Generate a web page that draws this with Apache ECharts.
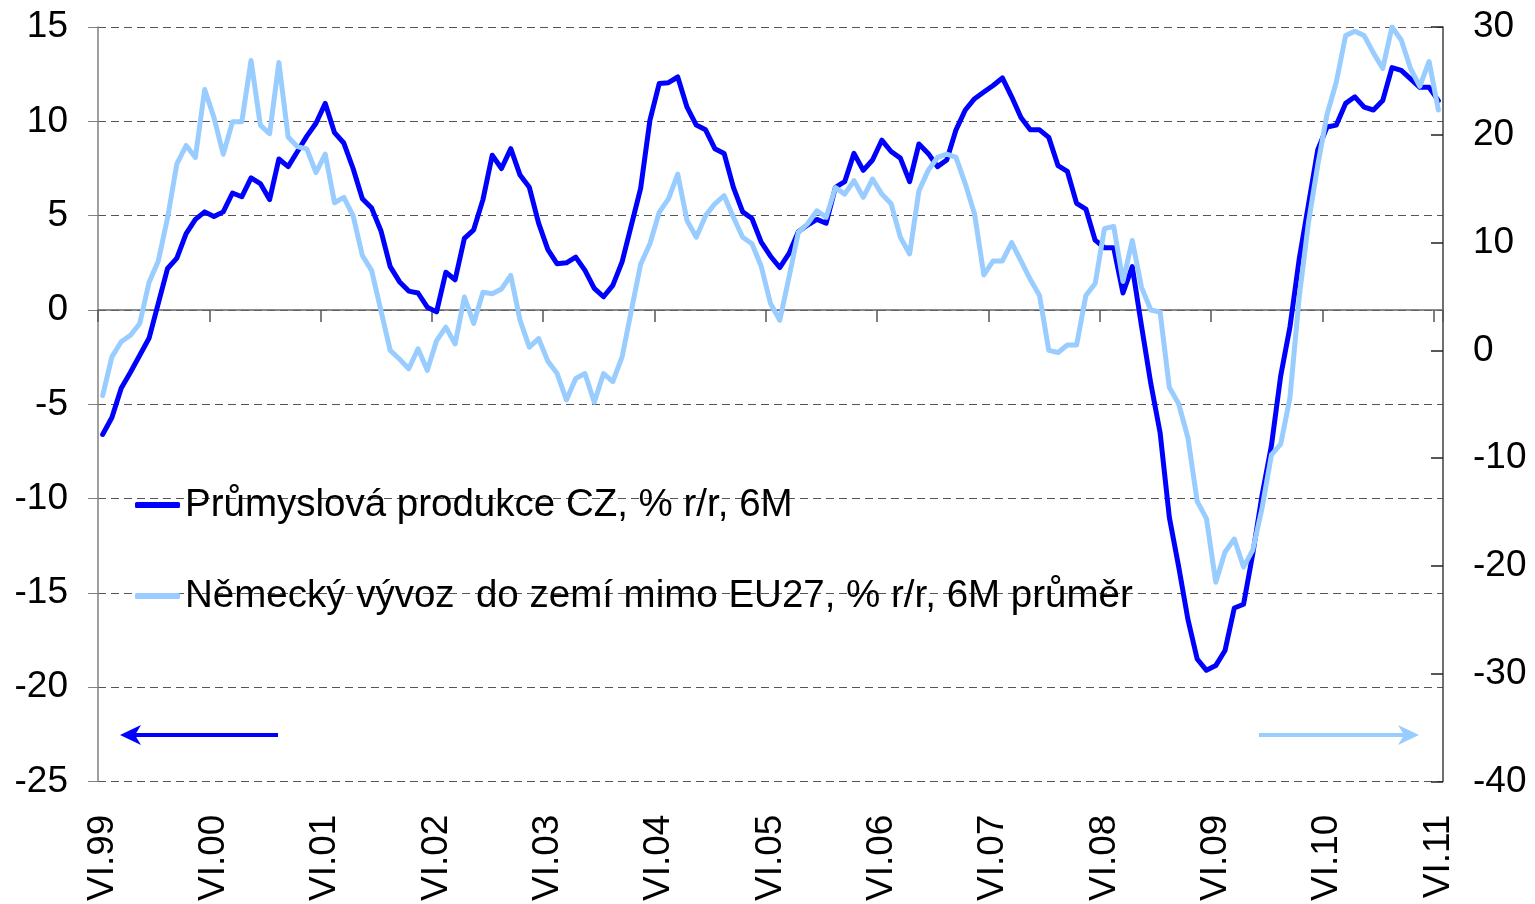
<!DOCTYPE html>
<html><head><meta charset="utf-8">
<script src="https://cdn.jsdelivr.net/npm/echarts@6/dist/echarts.min.js"></script>
<style>html,body{margin:0;padding:0;background:#fff}#c{width:1535px;height:904px}</style>
</head><body><div id="c"></div>
<script>
// Categories: monthly, VI.99 .. VI.11
const romanMonths = ['I','II','III','IV','V','VI','VII','VIII','IX','X','XI','XII'];
const categories = [];
for (let k = 0; k < 145; k++) {
  const m = (5 + k) % 12;
  const y = (1999 + Math.floor((5 + k) / 12)) % 100;
  categories.push(romanMonths[m] + '.' + String(y).padStart(2, '0'));
}

const nameCZ = 'Průmyslová produkce CZ, % r/r, 6M';
const nameDE = 'Německý vývoz  do zemí mimo EU27, % r/r, 6M průměr';

// Left axis series (CZ industrial production)
const czProduction = [
  -6.6,-5.7,-4.15,-3.3,-2.4,-1.5,0.35,2.2,2.75,4.05,4.8,5.2,
  4.95,5.2,6.2,6.0,7.0,6.7,5.85,8.0,7.6,8.4,9.2,9.9,
  10.95,9.4,8.85,7.5,5.9,5.4,4.2,2.3,1.5,1.0,0.9,0.15,
  -0.1,2.0,1.6,3.8,4.25,5.85,8.2,7.5,8.55,7.15,6.5,4.6,
  3.2,2.45,2.5,2.8,2.1,1.15,0.7,1.3,2.55,4.5,6.45,10.05,
  12.0,12.05,12.35,10.75,9.8,9.55,8.55,8.3,6.5,5.2,4.85,3.6,
  2.85,2.25,3.0,4.15,4.5,4.8,4.6,6.5,6.8,8.3,7.4,7.95,
  9.0,8.4,8.05,6.8,8.8,8.3,7.6,7.95,9.55,10.6,11.2,11.55,
  11.9,12.3,11.3,10.2,9.55,9.55,9.15,7.65,7.35,5.65,5.35,3.7,
  3.3,3.3,0.9,2.3,-0.85,-3.9,-6.5,-11.0,-13.6,-16.4,-18.5,-19.1,
  -18.85,-18.05,-15.8,-15.6,-12.9,-9.8,-7.2,-3.5,-0.9,2.7,5.6,8.5,
  9.7,9.8,10.95,11.3,10.75,10.6,11.1,12.85,12.7,12.25,11.8,11.8,
  11.1
];

// Right axis series (German exports outside EU27)
const deExports = [
  -4.2,-0.6,0.8,1.4,2.5,6.3,8.3,12.3,17.3,19.0,17.9,24.2,
  21.6,18.2,21.2,21.2,26.9,20.9,20.1,26.7,19.8,18.9,18.7,16.5,
  18.2,13.7,14.2,12.5,8.8,7.4,3.7,0.0,-0.8,-1.7,0.15,-1.85,
  0.9,2.15,0.6,4.95,2.5,5.4,5.25,5.7,6.95,2.8,0.3,1.1,
  -1.0,-2.15,-4.6,-2.6,-2.15,-4.8,-2.15,-2.9,-0.6,3.7,8.0,9.9,
  12.8,14.05,16.35,12.05,10.5,12.5,13.6,14.35,12.35,10.5,9.9,7.8,
  4.35,2.8,6.8,10.95,11.75,12.95,12.35,15.1,14.5,15.75,14.2,15.9,
  14.5,13.6,10.5,8.95,14.8,16.7,17.9,18.2,17.9,15.45,12.65,7.0,
  8.3,8.3,10.0,8.3,6.6,5.1,0.0,-0.2,0.5,0.5,5.1,6.2,
  11.3,11.5,6.4,10.2,5.85,3.75,3.55,-3.45,-4.95,-8.1,-14.0,-15.6,
  -21.5,-18.7,-17.5,-20.1,-18.5,-14.6,-9.7,-8.7,-4.4,4.95,11.9,17.2,
  21.9,24.9,29.2,29.6,29.2,27.6,26.15,30.0,28.8,26.15,24.5,26.8,
  22.3
];

const leftTicks = { min: -25, max: 15, interval: 5 };
const rightTicks = { min: -40, max: 30, interval: 10 };

const FONT = '"Liberation Sans", Arial, sans-serif';
const chart = echarts.init(document.getElementById('c'), null, { renderer: 'canvas' });

function arrow(x1, x2, y, color) {
  const dir = x2 < x1 ? -1 : 1;
  return [
    { type: 'line', shape: { x1: x1, y1: y, x2: x2 - dir * 8, y2: y },
      style: { stroke: color, lineWidth: 4 }, z: 10 },
    { type: 'polygon', shape: { points: [[x2, y], [x2 - dir * 21, y - 10], [x2 - dir * 15, y], [x2 - dir * 21, y + 10]] },
      style: { fill: color }, z: 10 }
  ];
}

const option = {
  animation: false,
  backgroundColor: '#ffffff',
  textStyle: { fontFamily: FONT },
  grid: { left: 98, right: 92, top: 27, bottom: 122, containLabel: false },
  legend: [
    { data: [nameCZ], orient: 'vertical', left: 135, top: 485, padding: 0,
      itemWidth: 45, itemHeight: 6, icon: 'roundRect',
      textStyle: { fontFamily: FONT, fontSize: 38.5, color: '#000', lineHeight: 40 } },
    { data: [nameDE], orient: 'vertical', left: 135, top: 576, padding: 0,
      itemWidth: 45, itemHeight: 6, icon: 'roundRect',
      textStyle: { fontFamily: FONT, fontSize: 38.5, color: '#000', lineHeight: 40 } }
  ],
  xAxis: [
    { type: 'category', data: categories, boundaryGap: true, position: 'bottom',
      axisLine: { show: true, onZero: true, lineStyle: { color: '#666666', width: 1.5 } },
      axisTick: { show: true, interval: 11, length: 12, lineStyle: { color: '#555555', width: 1.5 } },
      axisLabel: { show: false }, splitLine: { show: false } },
    { type: 'category', data: categories, boundaryGap: true, position: 'bottom',
      axisLine: { show: false, onZero: false }, axisTick: { show: false },
      axisLabel: { show: true, interval: 11, rotate: 90, margin: 33,
        fontFamily: FONT, fontSize: 37, color: '#000' },
      splitLine: { show: false } }
  ],
  yAxis: [
    { type: 'value', position: 'left', min: leftTicks.min, max: leftTicks.max, interval: leftTicks.interval,
      axisLine: { show: true, onZero: false, lineStyle: { color: '#808080', width: 1.5 } },
      axisTick: { show: true, length: 10, lineStyle: { color: '#808080' } },
      axisLabel: { margin: 30, fontFamily: FONT, fontSize: 37, color: '#000' },
      splitLine: { show: true, lineStyle: { color: '#555555', type: [8, 5], width: 1.2 } } },
    { type: 'value', position: 'right', min: rightTicks.min, max: rightTicks.max, interval: rightTicks.interval,
      axisLine: { show: true, onZero: false, lineStyle: { color: '#404040', width: 1.5 } },
      axisTick: { show: true, inside: true, length: 12, lineStyle: { color: '#222222', width: 1.5 } },
      axisLabel: { margin: 30, fontFamily: FONT, fontSize: 37, color: '#000' },
      splitLine: { show: false } }
  ],
  series: [
    { name: nameCZ, type: 'line', data: czProduction, xAxisIndex: 0, yAxisIndex: 0,
      symbol: 'none', smooth: false, color: '#0000FF',
      lineStyle: { color: '#0000FF', width: 5, cap: 'round', join: 'round' }, z: 3 },
    { name: nameDE, type: 'line', data: deExports, xAxisIndex: 0, yAxisIndex: 1,
      symbol: 'none', smooth: false, color: '#99CCFF',
      lineStyle: { color: '#99CCFF', width: 5, cap: 'round', join: 'round' }, z: 4 }
  ],
  graphic: [].concat(arrow(278, 120, 735, '#0000FF'), arrow(1259, 1419, 735, '#99CCFF'))
};
chart.setOption(option);
</script>
</body></html>
